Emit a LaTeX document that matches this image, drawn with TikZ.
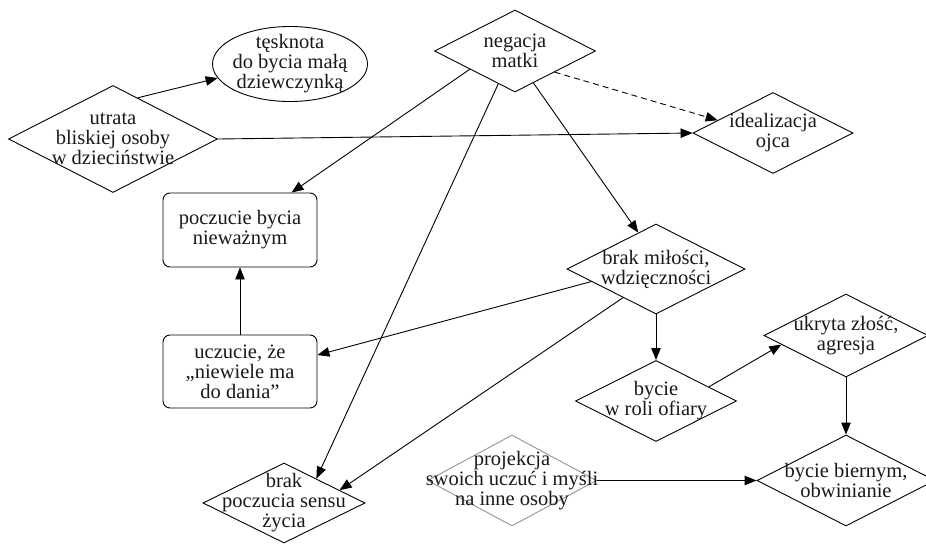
\documentclass[tikz,border=0pt]{standalone}
\usepackage{fontspec}
\setmainfont{Liberation Serif}
\usetikzlibrary{shapes.geometric,arrows.meta}
\begin{document}
\begin{tikzpicture}[x=1pt,y=-1pt,
  line width=0.9pt,
  dia/.style 2 args={shape=diamond,draw,inner sep=0pt,minimum width=#1,minimum height=#2},
  rbox/.style 2 args={shape=rectangle,draw,rounded corners=7pt,inner sep=0pt,minimum width=#1,minimum height=#2},
  oval/.style 2 args={shape=ellipse,draw,inner sep=0pt,minimum width=#1,minimum height=#2},
  txt/.style={align=center,inner sep=0pt,text=black!90,font=\fontsize{20.5}{20}\selectfont},
  arr/.style={-{Triangle[length=12pt,width=9.5pt]}},
  faint/.style={draw=black!42}]
\useasboundingbox (0,0) rectangle (926,544);

% shapes
\node[oval={155}{75}]  (tes)  at (290,64)    {};
\node[dia={209}{107}]  (utr)  at (113,139)   {};
\node[dia={161}{82}]   (neg)  at (515,51)    {};
\node[dia={160}{81}]   (ide)  at (773,133)   {};
\node[rbox={154}{74}]  (pocz) at (240,230)   {};
\node[rbox={154}{73}]  (ucz)  at (240,371.5) {};
\node[dia={178}{90}]   (bml)  at (656,269)   {};
\node[dia={161}{81}]   (ofi)  at (656,401)   {};
\node[dia={164}{83}]   (ukr)  at (846,335.5) {};
\node[dia={178}{91}]   (bie)  at (846,480.5) {};
\node[dia={169}{91},faint] (pro) at (512,480.5) {};
\node[dia={162}{80}]   (sen)  at (284,503)   {};

% texts
\node[txt] (tTes)  at (tes)  {tęsknota\\do bycia małą\\dziewczynką};
\node[txt] (tUtr)  at (utr)  {utrata\\bliskiej osoby\\w dzieciństwie};
\node[txt] (tNeg)  at (neg)  {negacja\\matki};
\node[txt] (tIde)  at (ide)  {idealizacja\\ojca};
\node[txt] (tPocz) at (pocz) {poczucie bycia\\nieważnym};
\node[txt] (tUcz)  at (ucz)  {uczucie, że\\„niewiele ma\\do dania”};
\node[txt] (tBml)  at (bml)  {brak miłości,\\wdzięczności};
\node[txt] (tOfi)  at (ofi)  {bycie\\w roli ofiary};
\node[txt] (tUkr)  at (ukr)  {ukryta złość,\\agresja};
\node[txt] (tBie)  at (bie)  {bycie biernym,\\obwinianie};
\node[txt] (tPro)  at (pro)  {projekcja\\swoich uczuć i myśli\\na inne osoby};
\node[txt] (tSen)  at (sen)  {brak\\poczucia sensu\\życia};

% connectors
\draw[arr] (utr.59.2) -- (tes.191);
\draw[arr] (utr.east) -- (ide.west);
\draw[arr] (neg.202.9) -- (pocz.36.5);
\draw[arr,dashed,dash pattern=on 6pt off 4pt] (neg.332.9) -- (ide.167.2);
\draw[arr] (neg.300.5) -- (bml.116);
\draw[arr] (neg.243.4) -- (sen.37.4);
\draw[arr] (bml.191.1) -- (ucz.12);
\draw[arr] (bml.221.4) -- (sen.13.6);
\draw[arr] (bml.south) -- (ofi.north);
\draw[arr] (ofi.15.8) -- (ukr.188);
\draw[arr] (ukr.south) -- (bie.north);
\draw[arr] (pro.east) -- (bie.west);
\draw[arr] (ucz.north) -- (pocz.south);
\end{tikzpicture}
\end{document}
